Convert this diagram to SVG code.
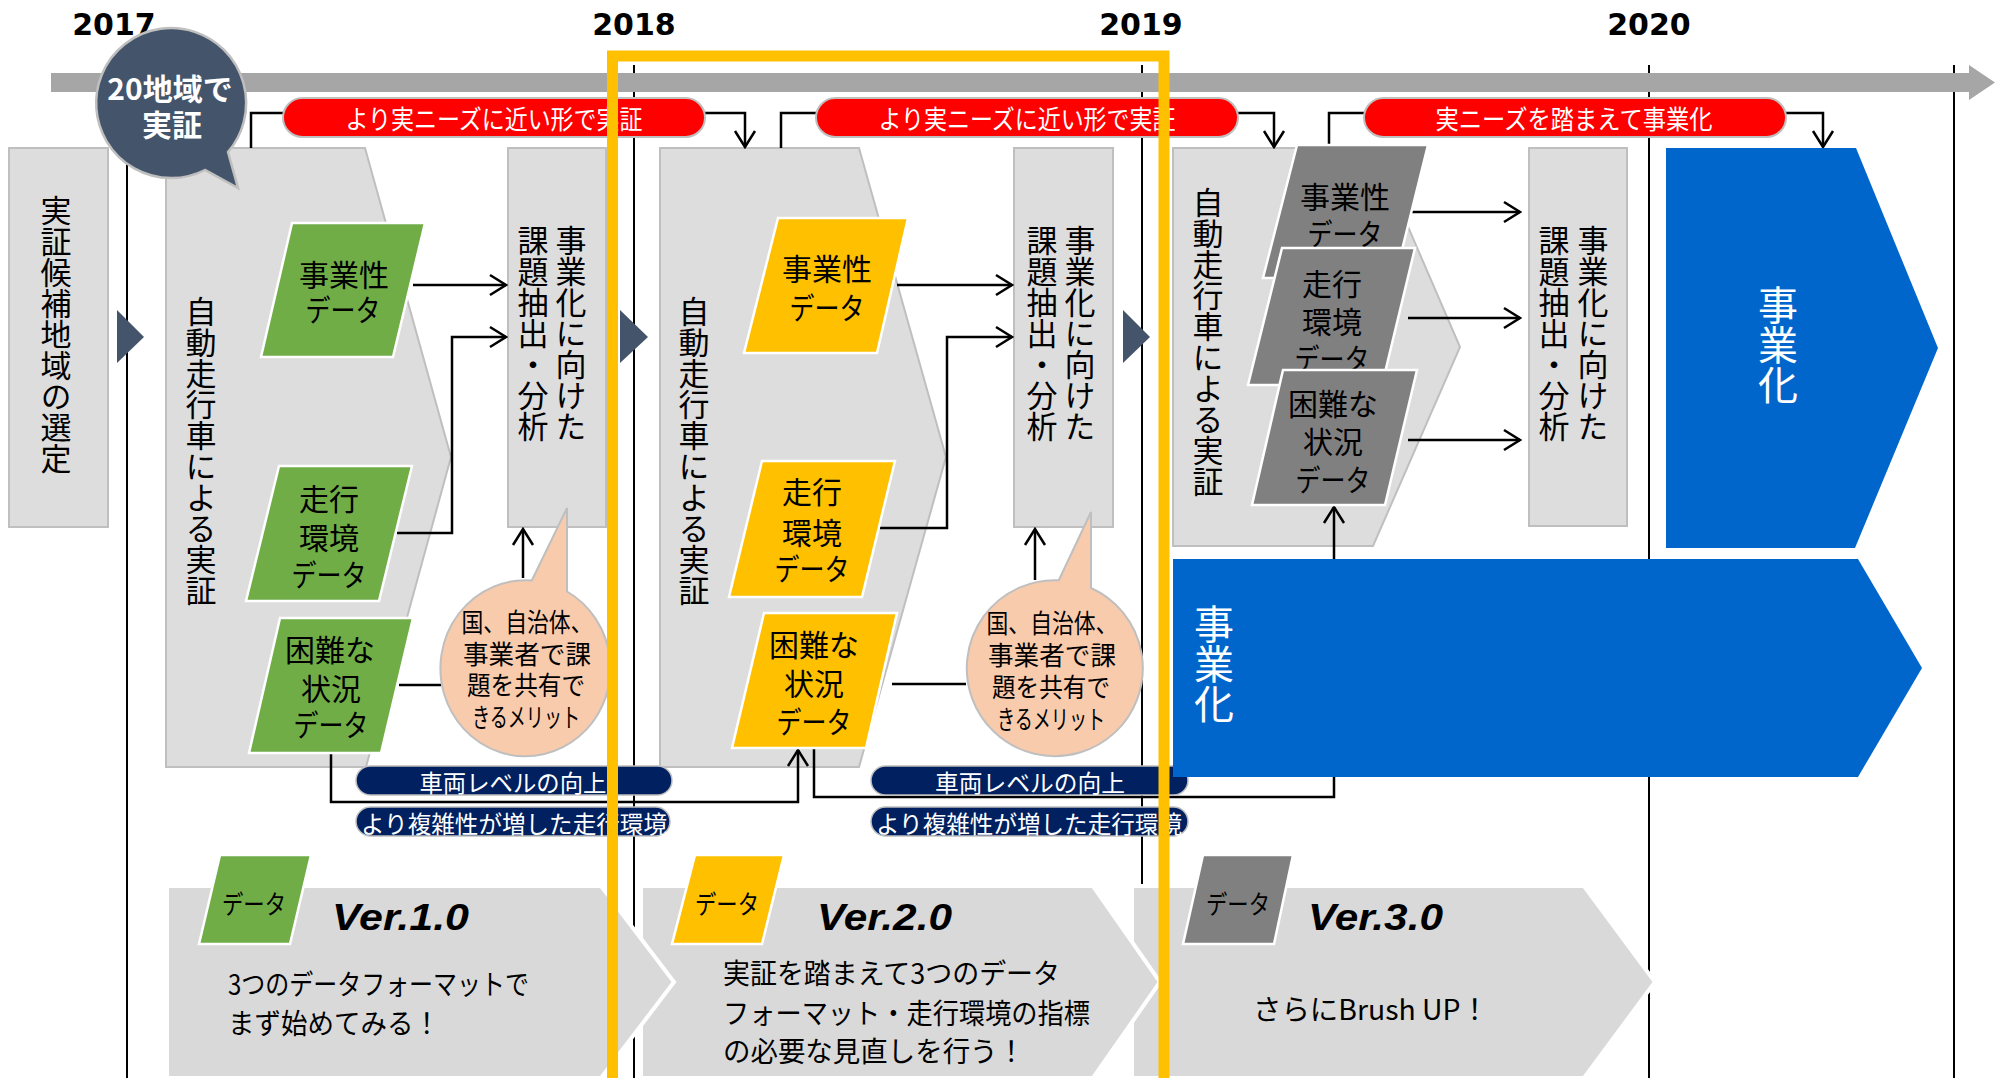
<svg xmlns="http://www.w3.org/2000/svg" width="1995" height="1078" viewBox="0 0 1995 1078">
<defs>
<style>
.jp{font-family:"Noto Sans CJK JP","Noto Sans",sans-serif;}
.v{font-family:"Noto Sans CJK JP",sans-serif;writing-mode:vertical-rl;font-size:31px;fill:#000;}
.box{fill:#DDDDDD;stroke:#BFBFBF;stroke-width:2;}
.vl{stroke:#000;stroke-width:2;}
.cn{fill:none;stroke:#000;stroke-width:2.5;}
.pg{stroke:#fff;stroke-width:2.5;}
.green{fill:#70AD47;}
.yel{fill:#FFC000;}
.dg{fill:#808080;}
.pt{font-size:30px;text-anchor:middle;dominant-baseline:central;fill:#000;}
.red{fill:#FF0000;stroke:#BFBFBF;stroke-width:2;}
.rt{font-size:26px;fill:#fff;text-anchor:middle;dominant-baseline:central;}
.navy{fill:#002060;stroke:#BFBFBF;stroke-width:1.5;}
.nt{font-size:24px;fill:#fff;text-anchor:middle;dominant-baseline:central;}
.bub{fill:#F8CBAD;stroke:#BFBFBF;stroke-width:2;}
.bt{font-size:26px;fill:#000;text-anchor:middle;dominant-baseline:central;}
.blue{fill:#0066CC;}
.bv{font-family:"Noto Sans CJK JP",sans-serif;writing-mode:vertical-rl;font-size:40px;fill:#fff;}
.chev{fill:#D9D9D9;stroke:#fff;stroke-width:4;}
.st{font-size:26px;text-anchor:middle;dominant-baseline:central;fill:#000;}
.body{font-size:28px;dominant-baseline:central;fill:#000;}
.ver{font-family:"Liberation Sans",Arial,sans-serif;font-weight:bold;font-style:italic;font-size:36px;fill:#000;}
.yr{font-family:"DejaVu Sans",sans-serif;font-weight:bold;font-size:30px;text-anchor:middle;fill:#000;}
.tri{fill:#44546A;}
</style>
<marker id="ah" markerUnits="userSpaceOnUse" markerWidth="20" markerHeight="24" viewBox="0 0 20 24" refX="18" refY="12" orient="auto"><path d="M2,2 L18,12 L2,22" fill="none" stroke="#000" stroke-width="2.5"/></marker>
</defs>
<rect x="0" y="0" width="1995" height="1078" fill="#fff"/>

<g id="gridlines">
<line class="vl" x1="127" y1="65" x2="127" y2="1078"/>
<line class="vl" x1="634" y1="65" x2="634" y2="1078"/>
<line class="vl" x1="1142" y1="65" x2="1142" y2="1078"/>
<line class="vl" x1="1649" y1="65" x2="1649" y2="1078"/>
<line class="vl" x1="1954" y1="65" x2="1954" y2="1078"/>
</g>

<g id="timeline">
<polygon points="51,73 1969,73 1969,65 1995,82.5 1969,100 1969,92 51,92" fill="#A6A6A6"/>
<text class="yr" x="114" y="35">2017</text>
<text class="yr" x="634" y="35">2018</text>
<text class="yr" x="1141" y="35">2019</text>
<text class="yr" x="1649" y="35">2020</text>
</g>

<g id="select">
<rect class="box" x="9" y="148" width="99" height="379"/>
<text class="v" x="56" y="195">実証候補地域の選定</text>
</g>
<polygon class="tri" points="117,310 144,337 117,363"/>
<polygon class="tri" points="620,310 648,337 620,363"/>
<polygon class="tri" points="1123,310 1150,337 1123,363"/>

<g id="demo1">
<polygon class="box" points="166,148 365,148 451,457 366,767 166,767"/>
<text class="v" x="201" y="296">自動走行車による実証</text>
</g>
<g id="issue1">
<rect class="box" x="508" y="148" width="98" height="379"/>
<text class="v"><tspan x="571" y="225">事業化に向けた</tspan><tspan x="533" y="225">課題抽出・分析</tspan></text>
</g>
<g id="demo2">
<polygon class="box" points="660,148 859,148 946,457 859,767 660,767"/>
<text class="v" x="694" y="296">自動走行車による実証</text>
</g>
<g id="issue2">
<rect class="box" x="1014" y="148" width="99" height="379"/>
<text class="v"><tspan x="1080" y="225">事業化に向けた</tspan><tspan x="1042" y="225">課題抽出・分析</tspan></text>
</g>
<g id="demo3">
<polygon class="box" points="1173,148 1374,148 1460,347 1373,546 1173,546"/>
<text class="v" x="1208" y="187">自動走行車による実証</text>
</g>
<g id="issue3">
<rect class="box" x="1529" y="148" width="98" height="378"/>
<text class="v"><tspan x="1593" y="225">事業化に向けた</tspan><tspan x="1554" y="225">課題抽出・分析</tspan></text>
</g>

<g id="connectors">
<polyline class="cn" points="283,113 251,113 251,148"/>
<polyline class="cn" points="705,113 745,113 745,147" marker-end="url(#ah)"/>
<polyline class="cn" points="816,113 781,113 781,148"/>
<polyline class="cn" points="1238,113 1274,113 1274,147" marker-end="url(#ah)"/>
<polyline class="cn" points="1364,113 1329,113 1329,144"/>
<polyline class="cn" points="1786,113 1823,113 1823,147" marker-end="url(#ah)"/>
<line class="cn" x1="413" y1="285" x2="506" y2="285" marker-end="url(#ah)"/>
<polyline class="cn" points="397,533 452,533 452,337 506,337" marker-end="url(#ah)"/>
<line class="cn" x1="399" y1="685" x2="441" y2="685"/>
<polyline class="cn" points="331,753 331,802 798,802 798,750" marker-end="url(#ah)"/>
<line class="cn" x1="523" y1="578" x2="523" y2="529" marker-end="url(#ah)"/>
<line class="cn" x1="897" y1="285" x2="1012" y2="285" marker-end="url(#ah)"/>
<polyline class="cn" points="880,528 947,528 947,337 1012,337" marker-end="url(#ah)"/>
<line class="cn" x1="892" y1="684" x2="966" y2="684"/>
<line class="cn" x1="1035" y1="580" x2="1035" y2="529" marker-end="url(#ah)"/>
<polyline class="cn" points="814,749 814,797 1334,797 1334,507" marker-end="url(#ah)"/>
<line class="cn" x1="1408" y1="212" x2="1520" y2="212" marker-end="url(#ah)"/>
<line class="cn" x1="1408" y1="318" x2="1520" y2="318" marker-end="url(#ah)"/>
<line class="cn" x1="1408" y1="440" x2="1520" y2="440" marker-end="url(#ah)"/>
</g>

<g id="data1" class="jp">
<polygon class="pg green" points="292,223 425,223 393,357 261,357"/>
<text class="pt"><tspan x="344" y="273">事業性</tspan><tspan x="343" y="308" textLength="75" lengthAdjust="spacingAndGlyphs">データ</tspan></text>
<polygon class="pg green" points="279,466 412,466 379,601 246,601"/>
<text class="pt"><tspan x="329" y="497">走行</tspan><tspan x="329" y="536">環境</tspan><tspan x="329" y="573" textLength="75" lengthAdjust="spacingAndGlyphs">データ</tspan></text>
<polygon class="pg green" points="280,618 413,618 381,753 249,753"/>
<text class="pt"><tspan x="330" y="648">困難な</tspan><tspan x="331" y="687">状況</tspan><tspan x="331" y="723" textLength="75" lengthAdjust="spacingAndGlyphs">データ</tspan></text>
</g>
<g id="data2" class="jp">
<polygon class="pg yel" points="778,218 908,218 877,353 744,353"/>
<text class="pt"><tspan x="827" y="267">事業性</tspan><tspan x="827" y="306" textLength="75" lengthAdjust="spacingAndGlyphs">データ</tspan></text>
<polygon class="pg yel" points="762,461 895,461 862,597 729,597"/>
<text class="pt"><tspan x="812" y="490">走行</tspan><tspan x="812" y="531">環境</tspan><tspan x="812" y="567" textLength="75" lengthAdjust="spacingAndGlyphs">データ</tspan></text>
<polygon class="pg yel" points="764,613 897,613 866,748 732,748"/>
<text class="pt"><tspan x="814" y="643">困難な</tspan><tspan x="814" y="682">状況</tspan><tspan x="814" y="720" textLength="75" lengthAdjust="spacingAndGlyphs">データ</tspan></text>
</g>
<g id="data3" class="jp">
<polygon class="pg dg" points="1297,145 1428,145 1395,278 1263,278"/>
<text class="pt"><tspan x="1345" y="195">事業性</tspan><tspan x="1345" y="232" textLength="75" lengthAdjust="spacingAndGlyphs">データ</tspan></text>
<polygon class="pg dg" points="1282,248 1415,248 1382,385 1248,385"/>
<text class="pt"><tspan x="1332" y="282">走行</tspan><tspan x="1332" y="320">環境</tspan><tspan x="1332" y="357" textLength="75" lengthAdjust="spacingAndGlyphs">データ</tspan></text>
<polygon class="pg dg" points="1283,370 1417,370 1385,505 1252,505"/>
<text class="pt"><tspan x="1333" y="402">困難な</tspan><tspan x="1333" y="440">状況</tspan><tspan x="1333" y="478" textLength="75" lengthAdjust="spacingAndGlyphs">データ</tspan></text>
</g>

<g id="bubble1" class="jp">
<path class="bub" d="M531.8,580.5 L567,508 L567,591.5 A85,88 0 1 1 531.8,580.5 Z"/>
<text class="bt"><tspan x="527" y="620" textLength="131" lengthAdjust="spacingAndGlyphs">国、自治体、</tspan><tspan x="527" y="652" textLength="128" lengthAdjust="spacingAndGlyphs">事業者で課</tspan><tspan x="526" y="683" textLength="118" lengthAdjust="spacingAndGlyphs">題を共有で</tspan><tspan x="526" y="715" textLength="108" lengthAdjust="spacingAndGlyphs">きるメリット</tspan></text>
</g>
<g id="bubble2" class="jp">
<path class="bub" d="M1058.8,580.3 L1091,512 L1091,588 A88,88 0 1 1 1058.8,580.3 Z"/>
<text class="bt"><tspan x="1052" y="621" textLength="131" lengthAdjust="spacingAndGlyphs">国、自治体、</tspan><tspan x="1052" y="653" textLength="128" lengthAdjust="spacingAndGlyphs">事業者で課</tspan><tspan x="1051" y="685" textLength="118" lengthAdjust="spacingAndGlyphs">題を共有で</tspan><tspan x="1051" y="717" textLength="108" lengthAdjust="spacingAndGlyphs">きるメリット</tspan></text>
</g>

<g id="redpills" class="jp">
<rect class="red" x="283" y="98" width="422" height="39" rx="19.5"/>
<text class="rt" x="494" y="117" textLength="297" lengthAdjust="spacingAndGlyphs">より実ニーズに近い形で実証</text>
<rect class="red" x="816" y="98" width="422" height="39" rx="19.5"/>
<text class="rt" x="1027" y="117" textLength="297" lengthAdjust="spacingAndGlyphs">より実ニーズに近い形で実証</text>
<rect class="red" x="1364" y="98" width="422" height="39" rx="19.5"/>
<text class="rt" x="1574" y="117" textLength="277" lengthAdjust="spacingAndGlyphs">実ニーズを踏まえて事業化</text>
</g>

<g id="navypills" class="jp">
<rect class="navy" x="356" y="766" width="316" height="29" rx="14.5"/>
<text class="nt" x="513" y="781" textLength="187" lengthAdjust="spacingAndGlyphs">車両レベルの向上</text>
<rect class="navy" x="356" y="807" width="314" height="29" rx="14.5"/>
<text class="nt" x="514" y="822" textLength="306" lengthAdjust="spacingAndGlyphs">より複雑性が増した走行環境</text>
<rect class="navy" x="871" y="766" width="317" height="29" rx="14.5"/>
<text class="nt" x="1030" y="781" textLength="190" lengthAdjust="spacingAndGlyphs">車両レベルの向上</text>
<rect class="navy" x="871" y="807" width="317" height="29" rx="14.5"/>
<text class="nt" x="1029" y="822" textLength="306" lengthAdjust="spacingAndGlyphs">より複雑性が増した走行環境</text>
</g>

<g id="biz1">
<polygon class="blue" points="1666,148 1856,148 1938,348 1855,548 1666,548"/>
<text class="bv" x="1778" y="285">事業化</text>
</g>
<g id="biz2">
<polygon class="blue" points="1173,559 1858,559 1922,668 1858,777 1173,777"/>
<text class="bv" x="1214" y="604">事業化</text>
</g>

<g id="ver3" class="jp">
<polygon class="chev" points="1132,886 1584,886 1655,982 1584,1078 1132,1078"/>
<polygon class="pg dg" points="1203,855 1293,855 1274,944 1183,944"/>
<text class="st" x="1238" y="902" textLength="64" lengthAdjust="spacingAndGlyphs">データ</text>
<text class="ver" x="1308" y="930" textLength="135" lengthAdjust="spacingAndGlyphs">Ver.3.0</text>
<text class="body" x="1253" y="1008" textLength="236" lengthAdjust="spacingAndGlyphs">さらにBrush UP！</text>
</g>
<g id="ver2" class="jp">
<polygon class="chev" points="641,886 1093,886 1160,982 1093,1078 641,1078"/>
<polygon class="pg yel" points="695,855 784,855 762,944 672,944"/>
<text class="st" x="727" y="902" textLength="64" lengthAdjust="spacingAndGlyphs">データ</text>
<text class="ver" x="817" y="930" textLength="135" lengthAdjust="spacingAndGlyphs">Ver.2.0</text>
<text class="body"><tspan x="723" y="972" textLength="337" lengthAdjust="spacingAndGlyphs">実証を踏まえて3つのデータ</tspan><tspan x="723" y="1012" textLength="367" lengthAdjust="spacingAndGlyphs">フォーマット・走行環境の指標</tspan><tspan x="723" y="1050" textLength="302" lengthAdjust="spacingAndGlyphs">の必要な見直しを行う！</tspan></text>
</g>
<g id="ver1" class="jp">
<polygon class="chev" points="167,886 601,886 674,982 601,1078 167,1078"/>
<polygon class="pg green" points="220,855 311,855 290,944 199,944"/>
<text class="st" x="254" y="902" textLength="64" lengthAdjust="spacingAndGlyphs">データ</text>
<text class="ver" x="332" y="930" textLength="137" lengthAdjust="spacingAndGlyphs">Ver.1.0</text>
<text class="body"><tspan x="228" y="983" textLength="301" lengthAdjust="spacingAndGlyphs">3つのデータフォーマットで</tspan><tspan x="228" y="1022" textLength="212" lengthAdjust="spacingAndGlyphs">まず始めてみる！</tspan></text>
</g>

<g id="callout20" class="jp">
<path d="M228,152 L238,188 L205,170 A75,75 0 1 1 228,152 Z" fill="#44546A" stroke="#BFBFBF" stroke-width="2.5"/>
<text font-size="30" font-weight="bold" fill="#fff" text-anchor="middle" dominant-baseline="central"><tspan x="170" y="87">20地域で</tspan><tspan x="172" y="123">実証</tspan></text>
</g>

<rect id="focus2018" x="612.5" y="56" width="551.5" height="1050" fill="none" stroke="#FFC000" stroke-width="11"/>
</svg>
